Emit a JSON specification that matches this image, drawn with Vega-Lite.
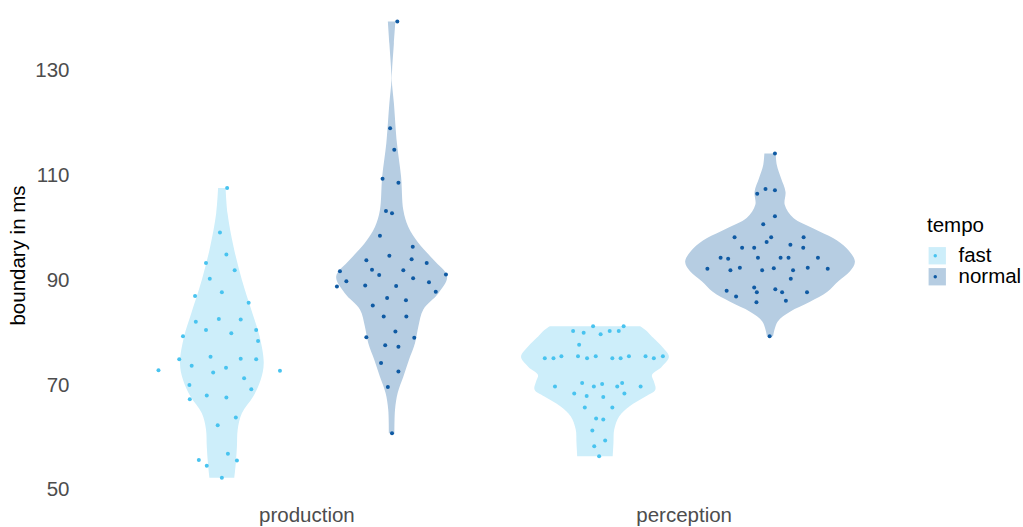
{
  "$schema": "https://vega.github.io/schema/vega-lite/v6.json",
  "autosize": {"type": "none"},
  "width": 830,
  "height": 500,
  "padding": {"left": 80, "top": 0, "right": 113, "bottom": 27},
  "background": "white",
  "config": {
    "view": {"stroke": null},
    "font": "Liberation Sans"
  },
  "datasets": {
    "vio": [
      {"task": "production", "tempo": "fast", "value": 107.6, "lo": 0.766, "hi": 0.786},
      {"task": "production", "tempo": "fast", "value": 102.8, "lo": 0.761, "hi": 0.791},
      {"task": "production", "tempo": "fast", "value": 96.4, "lo": 0.745, "hi": 0.807},
      {"task": "production", "tempo": "fast", "value": 90.1, "lo": 0.723, "hi": 0.829},
      {"task": "production", "tempo": "fast", "value": 83.7, "lo": 0.695, "hi": 0.857},
      {"task": "production", "tempo": "fast", "value": 79.3, "lo": 0.676, "hi": 0.876},
      {"task": "production", "tempo": "fast", "value": 74.2, "lo": 0.665, "hi": 0.887},
      {"task": "production", "tempo": "fast", "value": 71.0, "lo": 0.673, "hi": 0.879},
      {"task": "production", "tempo": "fast", "value": 67.8, "lo": 0.693, "hi": 0.859},
      {"task": "production", "tempo": "fast", "value": 64.6, "lo": 0.723, "hi": 0.829},
      {"task": "production", "tempo": "fast", "value": 61.5, "lo": 0.734, "hi": 0.818},
      {"task": "production", "tempo": "fast", "value": 58.3, "lo": 0.736, "hi": 0.816},
      {"task": "production", "tempo": "fast", "value": 55.1, "lo": 0.739, "hi": 0.813},
      {"task": "production", "tempo": "fast", "value": 52.3, "lo": 0.743, "hi": 0.809},

      {"task": "production", "tempo": "normal", "value": 139.4, "lo": 1.216, "hi": 1.236},
      {"task": "production", "tempo": "normal", "value": 135.2, "lo": 1.220, "hi": 1.232},
      {"task": "production", "tempo": "normal", "value": 130.2, "lo": 1.2247, "hi": 1.2273},
      {"task": "production", "tempo": "normal", "value": 128.2, "lo": 1.2255, "hi": 1.2265},
      {"task": "production", "tempo": "normal", "value": 123.8, "lo": 1.220, "hi": 1.232},
      {"task": "production", "tempo": "normal", "value": 116.2, "lo": 1.212, "hi": 1.240},
      {"task": "production", "tempo": "normal", "value": 109.8, "lo": 1.201, "hi": 1.251},
      {"task": "production", "tempo": "normal", "value": 103.4, "lo": 1.195, "hi": 1.257},
      {"task": "production", "tempo": "normal", "value": 100.2, "lo": 1.182, "hi": 1.270},
      {"task": "production", "tempo": "normal", "value": 97.1, "lo": 1.155, "hi": 1.297},
      {"task": "production", "tempo": "normal", "value": 93.9, "lo": 1.115, "hi": 1.337},
      {"task": "production", "tempo": "normal", "value": 90.7, "lo": 1.079, "hi": 1.373},
      {"task": "production", "tempo": "normal", "value": 87.5, "lo": 1.102, "hi": 1.350},
      {"task": "production", "tempo": "normal", "value": 84.4, "lo": 1.142, "hi": 1.310},
      {"task": "production", "tempo": "normal", "value": 81.2, "lo": 1.155, "hi": 1.297},
      {"task": "production", "tempo": "normal", "value": 78.0, "lo": 1.164, "hi": 1.288},
      {"task": "production", "tempo": "normal", "value": 74.8, "lo": 1.180, "hi": 1.272},
      {"task": "production", "tempo": "normal", "value": 71.6, "lo": 1.195, "hi": 1.257},
      {"task": "production", "tempo": "normal", "value": 68.5, "lo": 1.210, "hi": 1.242},
      {"task": "production", "tempo": "normal", "value": 65.3, "lo": 1.217, "hi": 1.235},
      {"task": "production", "tempo": "normal", "value": 60.8, "lo": 1.2186, "hi": 1.2334},

      {"task": "perception", "tempo": "fast", "value": 81.2, "lo": 1.645, "hi": 1.885},
      {"task": "perception", "tempo": "fast", "value": 80.3, "lo": 1.628, "hi": 1.902},
      {"task": "perception", "tempo": "fast", "value": 79.3, "lo": 1.615, "hi": 1.915},
      {"task": "perception", "tempo": "fast", "value": 77.3, "lo": 1.587, "hi": 1.943},
      {"task": "perception", "tempo": "fast", "value": 75.4, "lo": 1.569, "hi": 1.961},
      {"task": "perception", "tempo": "fast", "value": 73.5, "lo": 1.588, "hi": 1.942},
      {"task": "perception", "tempo": "fast", "value": 71.9, "lo": 1.614, "hi": 1.916},
      {"task": "perception", "tempo": "fast", "value": 70.7, "lo": 1.609, "hi": 1.921},
      {"task": "perception", "tempo": "fast", "value": 69.1, "lo": 1.605, "hi": 1.925},
      {"task": "perception", "tempo": "fast", "value": 67.8, "lo": 1.631, "hi": 1.899},
      {"task": "perception", "tempo": "fast", "value": 65.9, "lo": 1.674, "hi": 1.856},
      {"task": "perception", "tempo": "fast", "value": 64.0, "lo": 1.701, "hi": 1.829},
      {"task": "perception", "tempo": "fast", "value": 61.5, "lo": 1.714, "hi": 1.816},
      {"task": "perception", "tempo": "fast", "value": 58.9, "lo": 1.716, "hi": 1.814},
      {"task": "perception", "tempo": "fast", "value": 56.4, "lo": 1.718, "hi": 1.812},

      {"task": "perception", "tempo": "normal", "value": 114.2, "lo": 2.214, "hi": 2.244},
      {"task": "perception", "tempo": "normal", "value": 112.0, "lo": 2.211, "hi": 2.247},
      {"task": "perception", "tempo": "normal", "value": 109.5, "lo": 2.200, "hi": 2.258},
      {"task": "perception", "tempo": "normal", "value": 106.9, "lo": 2.188, "hi": 2.270},
      {"task": "perception", "tempo": "normal", "value": 104.4, "lo": 2.190, "hi": 2.268},
      {"task": "perception", "tempo": "normal", "value": 101.9, "lo": 2.167, "hi": 2.291},
      {"task": "perception", "tempo": "normal", "value": 99.9, "lo": 2.114, "hi": 2.344},
      {"task": "perception", "tempo": "normal", "value": 98.0, "lo": 2.061, "hi": 2.397},
      {"task": "perception", "tempo": "normal", "value": 96.1, "lo": 2.026, "hi": 2.432},
      {"task": "perception", "tempo": "normal", "value": 93.6, "lo": 2.004, "hi": 2.454},
      {"task": "perception", "tempo": "normal", "value": 91.7, "lo": 2.017, "hi": 2.441},
      {"task": "perception", "tempo": "normal", "value": 89.8, "lo": 2.048, "hi": 2.410},
      {"task": "perception", "tempo": "normal", "value": 87.8, "lo": 2.077, "hi": 2.381},
      {"task": "perception", "tempo": "normal", "value": 85.9, "lo": 2.123, "hi": 2.335},
      {"task": "perception", "tempo": "normal", "value": 84.0, "lo": 2.176, "hi": 2.282},
      {"task": "perception", "tempo": "normal", "value": 82.1, "lo": 2.209, "hi": 2.249},
      {"task": "perception", "tempo": "normal", "value": 79.3, "lo": 2.221, "hi": 2.237}
    ],
    "pts": [
      {"task": "production", "tempo": "fast", "x": 0.790, "value": 107.6},
      {"task": "production", "tempo": "fast", "x": 0.771, "value": 99.1},
      {"task": "production", "tempo": "fast", "x": 0.788, "value": 94.9},
      {"task": "production", "tempo": "fast", "x": 0.734, "value": 93.3},
      {"task": "production", "tempo": "fast", "x": 0.810, "value": 91.9},
      {"task": "production", "tempo": "fast", "x": 0.744, "value": 90.3},
      {"task": "production", "tempo": "fast", "x": 0.776, "value": 87.7},
      {"task": "production", "tempo": "fast", "x": 0.705, "value": 87.0},
      {"task": "production", "tempo": "fast", "x": 0.847, "value": 85.7},
      {"task": "production", "tempo": "fast", "x": 0.707, "value": 82.1},
      {"task": "production", "tempo": "fast", "x": 0.768, "value": 82.6},
      {"task": "production", "tempo": "fast", "x": 0.826, "value": 82.5},
      {"task": "production", "tempo": "fast", "x": 0.734, "value": 80.5},
      {"task": "production", "tempo": "fast", "x": 0.867, "value": 80.5},
      {"task": "production", "tempo": "fast", "x": 0.801, "value": 79.9},
      {"task": "production", "tempo": "fast", "x": 0.673, "value": 79.3},
      {"task": "production", "tempo": "fast", "x": 0.872, "value": 78.4},
      {"task": "production", "tempo": "fast", "x": 0.746, "value": 75.4},
      {"task": "production", "tempo": "fast", "x": 0.663, "value": 74.9},
      {"task": "production", "tempo": "fast", "x": 0.826, "value": 75.0},
      {"task": "production", "tempo": "fast", "x": 0.867, "value": 74.9},
      {"task": "production", "tempo": "fast", "x": 0.696, "value": 73.7},
      {"task": "production", "tempo": "fast", "x": 0.787, "value": 73.3},
      {"task": "production", "tempo": "fast", "x": 0.608, "value": 72.8},
      {"task": "production", "tempo": "fast", "x": 0.930, "value": 72.7},
      {"task": "production", "tempo": "fast", "x": 0.753, "value": 72.4},
      {"task": "production", "tempo": "fast", "x": 0.835, "value": 71.3},
      {"task": "production", "tempo": "fast", "x": 0.690, "value": 70.0},
      {"task": "production", "tempo": "fast", "x": 0.854, "value": 69.2},
      {"task": "production", "tempo": "fast", "x": 0.691, "value": 67.3},
      {"task": "production", "tempo": "fast", "x": 0.736, "value": 68.0},
      {"task": "production", "tempo": "fast", "x": 0.788, "value": 67.6},
      {"task": "production", "tempo": "fast", "x": 0.813, "value": 63.8},
      {"task": "production", "tempo": "fast", "x": 0.765, "value": 62.3},
      {"task": "production", "tempo": "fast", "x": 0.792, "value": 56.9},
      {"task": "production", "tempo": "fast", "x": 0.715, "value": 55.7},
      {"task": "production", "tempo": "fast", "x": 0.816, "value": 55.6},
      {"task": "production", "tempo": "fast", "x": 0.736, "value": 54.6},
      {"task": "production", "tempo": "fast", "x": 0.776, "value": 52.3},

      {"task": "production", "tempo": "normal", "x": 1.241, "value": 139.4},
      {"task": "production", "tempo": "normal", "x": 1.222, "value": 119.0},
      {"task": "production", "tempo": "normal", "x": 1.233, "value": 114.9},
      {"task": "production", "tempo": "normal", "x": 1.202, "value": 109.4},
      {"task": "production", "tempo": "normal", "x": 1.244, "value": 108.6},
      {"task": "production", "tempo": "normal", "x": 1.211, "value": 103.2},
      {"task": "production", "tempo": "normal", "x": 1.227, "value": 102.8},
      {"task": "production", "tempo": "normal", "x": 1.195, "value": 98.5},
      {"task": "production", "tempo": "normal", "x": 1.282, "value": 96.4},
      {"task": "production", "tempo": "normal", "x": 1.220, "value": 94.7},
      {"task": "production", "tempo": "normal", "x": 1.159, "value": 93.8},
      {"task": "production", "tempo": "normal", "x": 1.279, "value": 94.0},
      {"task": "production", "tempo": "normal", "x": 1.319, "value": 93.3},
      {"task": "production", "tempo": "normal", "x": 1.089, "value": 91.7},
      {"task": "production", "tempo": "normal", "x": 1.174, "value": 92.0},
      {"task": "production", "tempo": "normal", "x": 1.257, "value": 91.9},
      {"task": "production", "tempo": "normal", "x": 1.193, "value": 91.0},
      {"task": "production", "tempo": "normal", "x": 1.370, "value": 91.1},
      {"task": "production", "tempo": "normal", "x": 1.106, "value": 89.8},
      {"task": "production", "tempo": "normal", "x": 1.283, "value": 90.4},
      {"task": "production", "tempo": "normal", "x": 1.081, "value": 88.8},
      {"task": "production", "tempo": "normal", "x": 1.156, "value": 89.0},
      {"task": "production", "tempo": "normal", "x": 1.238, "value": 88.9},
      {"task": "production", "tempo": "normal", "x": 1.325, "value": 89.6},
      {"task": "production", "tempo": "normal", "x": 1.343, "value": 87.8},
      {"task": "production", "tempo": "normal", "x": 1.214, "value": 86.6},
      {"task": "production", "tempo": "normal", "x": 1.264, "value": 86.2},
      {"task": "production", "tempo": "normal", "x": 1.176, "value": 85.2},
      {"task": "production", "tempo": "normal", "x": 1.205, "value": 83.1},
      {"task": "production", "tempo": "normal", "x": 1.265, "value": 83.1},
      {"task": "production", "tempo": "normal", "x": 1.236, "value": 80.2},
      {"task": "production", "tempo": "normal", "x": 1.159, "value": 79.1},
      {"task": "production", "tempo": "normal", "x": 1.286, "value": 79.0},
      {"task": "production", "tempo": "normal", "x": 1.209, "value": 77.6},
      {"task": "production", "tempo": "normal", "x": 1.244, "value": 77.3},
      {"task": "production", "tempo": "normal", "x": 1.198, "value": 74.2},
      {"task": "production", "tempo": "normal", "x": 1.244, "value": 72.6},
      {"task": "production", "tempo": "normal", "x": 1.216, "value": 69.6},
      {"task": "production", "tempo": "normal", "x": 1.227, "value": 60.8},

      {"task": "perception", "tempo": "fast", "x": 1.760, "value": 81.2},
      {"task": "perception", "tempo": "fast", "x": 1.841, "value": 81.2},
      {"task": "perception", "tempo": "fast", "x": 1.707, "value": 80.3},
      {"task": "perception", "tempo": "fast", "x": 1.735, "value": 80.0},
      {"task": "perception", "tempo": "fast", "x": 1.780, "value": 79.7},
      {"task": "perception", "tempo": "fast", "x": 1.804, "value": 80.3},
      {"task": "perception", "tempo": "fast", "x": 1.828, "value": 80.3},
      {"task": "perception", "tempo": "fast", "x": 1.723, "value": 77.7},
      {"task": "perception", "tempo": "fast", "x": 1.632, "value": 75.1},
      {"task": "perception", "tempo": "fast", "x": 1.655, "value": 75.1},
      {"task": "perception", "tempo": "fast", "x": 1.676, "value": 75.5},
      {"task": "perception", "tempo": "fast", "x": 1.720, "value": 75.5},
      {"task": "perception", "tempo": "fast", "x": 1.744, "value": 75.1},
      {"task": "perception", "tempo": "fast", "x": 1.767, "value": 75.5},
      {"task": "perception", "tempo": "fast", "x": 1.811, "value": 75.1},
      {"task": "perception", "tempo": "fast", "x": 1.833, "value": 75.1},
      {"task": "perception", "tempo": "fast", "x": 1.855, "value": 75.5},
      {"task": "perception", "tempo": "fast", "x": 1.899, "value": 75.5},
      {"task": "perception", "tempo": "fast", "x": 1.921, "value": 75.1},
      {"task": "perception", "tempo": "fast", "x": 1.945, "value": 75.5},
      {"task": "perception", "tempo": "fast", "x": 1.659, "value": 69.7},
      {"task": "perception", "tempo": "fast", "x": 1.731, "value": 70.4},
      {"task": "perception", "tempo": "fast", "x": 1.762, "value": 69.7},
      {"task": "perception", "tempo": "fast", "x": 1.784, "value": 70.2},
      {"task": "perception", "tempo": "fast", "x": 1.824, "value": 69.7},
      {"task": "perception", "tempo": "fast", "x": 1.837, "value": 70.4},
      {"task": "perception", "tempo": "fast", "x": 1.886, "value": 69.7},
      {"task": "perception", "tempo": "fast", "x": 1.710, "value": 68.4},
      {"task": "perception", "tempo": "fast", "x": 1.743, "value": 67.9},
      {"task": "perception", "tempo": "fast", "x": 1.787, "value": 67.7},
      {"task": "perception", "tempo": "fast", "x": 1.843, "value": 68.4},
      {"task": "perception", "tempo": "fast", "x": 1.738, "value": 65.7},
      {"task": "perception", "tempo": "fast", "x": 1.811, "value": 65.7},
      {"task": "perception", "tempo": "fast", "x": 1.768, "value": 63.6},
      {"task": "perception", "tempo": "fast", "x": 1.787, "value": 63.4},
      {"task": "perception", "tempo": "fast", "x": 1.758, "value": 61.3},
      {"task": "perception", "tempo": "fast", "x": 1.792, "value": 59.4},
      {"task": "perception", "tempo": "fast", "x": 1.763, "value": 58.3},
      {"task": "perception", "tempo": "fast", "x": 1.776, "value": 56.4},

      {"task": "perception", "tempo": "normal", "x": 2.242, "value": 114.2},
      {"task": "perception", "tempo": "normal", "x": 2.217, "value": 107.4},
      {"task": "perception", "tempo": "normal", "x": 2.242, "value": 107.2},
      {"task": "perception", "tempo": "normal", "x": 2.195, "value": 106.5},
      {"task": "perception", "tempo": "normal", "x": 2.242, "value": 102.2},
      {"task": "perception", "tempo": "normal", "x": 2.211, "value": 100.7},
      {"task": "perception", "tempo": "normal", "x": 2.135, "value": 98.2},
      {"task": "perception", "tempo": "normal", "x": 2.232, "value": 98.2},
      {"task": "perception", "tempo": "normal", "x": 2.318, "value": 98.2},
      {"task": "perception", "tempo": "normal", "x": 2.220, "value": 97.3},
      {"task": "perception", "tempo": "normal", "x": 2.283, "value": 96.8},
      {"task": "perception", "tempo": "normal", "x": 2.155, "value": 96.2},
      {"task": "perception", "tempo": "normal", "x": 2.187, "value": 96.2},
      {"task": "perception", "tempo": "normal", "x": 2.317, "value": 96.2},
      {"task": "perception", "tempo": "normal", "x": 2.098, "value": 94.3},
      {"task": "perception", "tempo": "normal", "x": 2.118, "value": 94.1},
      {"task": "perception", "tempo": "normal", "x": 2.197, "value": 94.3},
      {"task": "perception", "tempo": "normal", "x": 2.257, "value": 94.3},
      {"task": "perception", "tempo": "normal", "x": 2.278, "value": 94.3},
      {"task": "perception", "tempo": "normal", "x": 2.356, "value": 94.3},
      {"task": "perception", "tempo": "normal", "x": 2.063, "value": 92.2},
      {"task": "perception", "tempo": "normal", "x": 2.124, "value": 91.9},
      {"task": "perception", "tempo": "normal", "x": 2.149, "value": 92.4},
      {"task": "perception", "tempo": "normal", "x": 2.208, "value": 91.9},
      {"task": "perception", "tempo": "normal", "x": 2.239, "value": 92.3},
      {"task": "perception", "tempo": "normal", "x": 2.290, "value": 91.9},
      {"task": "perception", "tempo": "normal", "x": 2.329, "value": 92.4},
      {"task": "perception", "tempo": "normal", "x": 2.382, "value": 92.2},
      {"task": "perception", "tempo": "normal", "x": 2.284, "value": 90.3},
      {"task": "perception", "tempo": "normal", "x": 2.114, "value": 88.0},
      {"task": "perception", "tempo": "normal", "x": 2.187, "value": 88.6},
      {"task": "perception", "tempo": "normal", "x": 2.194, "value": 87.7},
      {"task": "perception", "tempo": "normal", "x": 2.243, "value": 88.3},
      {"task": "perception", "tempo": "normal", "x": 2.261, "value": 87.7},
      {"task": "perception", "tempo": "normal", "x": 2.327, "value": 87.7},
      {"task": "perception", "tempo": "normal", "x": 2.139, "value": 86.9},
      {"task": "perception", "tempo": "normal", "x": 2.193, "value": 85.8},
      {"task": "perception", "tempo": "normal", "x": 2.271, "value": 86.1},
      {"task": "perception", "tempo": "normal", "x": 2.228, "value": 79.3}
    ]
  },
  "layer": [
    {
      "data": {"name": "vio"},
      "mark": {"type": "area", "orient": "horizontal", "interpolate": "catmull-rom", "opacity": 1},
      "encoding": {
        "y": {
          "field": "value", "type": "quantitative",
          "scale": {"domain": [48.05, 143.5], "nice": false, "zero": false},
          "axis": {
            "title": "boundary in ms",
            "values": [50, 70, 90, 110, 130],
            "grid": false, "domain": false, "ticks": false,
            "labelFontSize": 20.5, "labelColor": "#4d4d4d", "labelPadding": 11,
            "titleFontSize": 20.5, "titleFontWeight": "normal", "titleColor": "#000000",
            "titleAngle": -90, "titleX": -62, "titleY": 255, "titleAlign": "center", "titleBaseline": "middle"
          }
        },
        "x": {
          "field": "lo", "type": "quantitative",
          "scale": {"domain": [0.4, 2.6], "nice": false, "zero": false},
          "axis": {
            "title": null,
            "values": [1, 2],
            "labelExpr": "datum.value == 1 ? 'production' : 'perception'",
            "grid": false, "domain": false, "ticks": false,
            "labelFontSize": 20.5, "labelColor": "#4d4d4d", "labelPadding": 5
          }
        },
        "x2": {"field": "hi"},
        "detail": {"field": "task"},
        "fill": {
          "field": "tempo", "type": "nominal",
          "scale": {"domain": ["fast", "normal"], "range": ["#cdeefa", "#b6cde2"]},
          "legend": {
            "orient": "none", "legendX": 847, "legendY": 216,
            "title": "tempo", "titleFontSize": 20.5, "titleFontWeight": "normal", "titleColor": "#000000", "titlePadding": 9,
            "labelFontSize": 20.5, "labelColor": "#000000", "labelOffset": 11,
            "symbolType": "square", "symbolSize": 300, "symbolStrokeWidth": 0, "symbolOpacity": 1, "rowPadding": 0
          }
        }
      }
    },
    {
      "data": {"name": "pts"},
      "mark": {"type": "point", "filled": true, "shape": "circle", "size": 16, "opacity": 1},
      "encoding": {
        "x": {"field": "x", "type": "quantitative"},
        "y": {"field": "value", "type": "quantitative"},
        "color": {
          "field": "tempo", "type": "nominal",
          "scale": {"range": ["#48c3ef", "#0f5aa3"]},
          "legend": {
            "orient": "none", "legendX": 845, "legendY": 245.5,
            "title": null,
            "labelFontSize": 20.5, "labelExpr": "' '", "labelOffset": 11,
            "symbolType": "circle", "symbolSize": 12, "symbolStrokeWidth": 0, "symbolOpacity": 1, "rowPadding": 0
          }
        }
      }
    }
  ]
}
